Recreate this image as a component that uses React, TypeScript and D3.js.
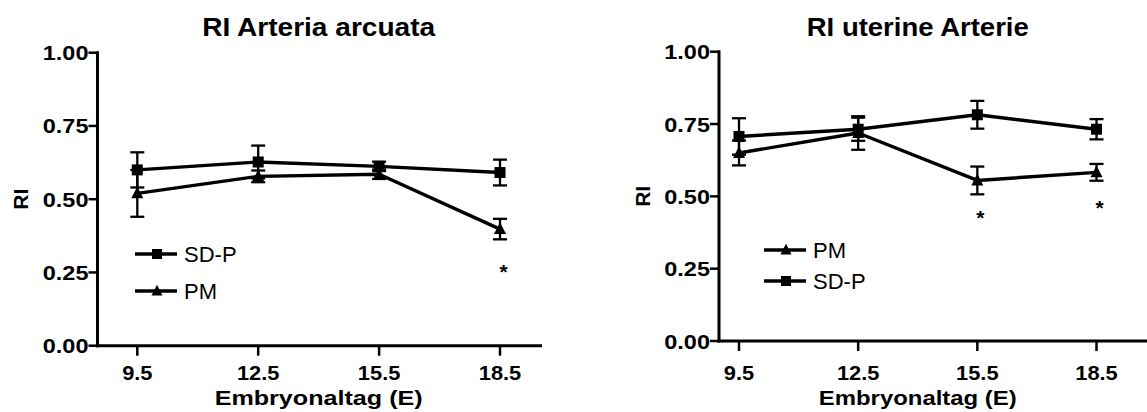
import React from 'react';
import * as d3 from 'd3';

// embryonal days
const days = [9.5, 12.5, 15.5, 18.5];
const yTicks = [0, 0.25, 0.5, 0.75, 1.0];

// RI Arteria arcuata
const arcSDP = [0.60, 0.627, 0.612, 0.591];
const arcSDPErr = [0.06, 0.056, 0.016, 0.044];
const arcPM = [0.52, 0.578, 0.585, 0.398];
const arcPMErr = [0.08, 0.02, 0.016, 0.035];
const arcStarDays = [18.5];
const arcStarVals = [0.27];

// RI uterine Arterie
const utSDP = [0.707, 0.732, 0.782, 0.732];
const utSDPErr = [0.063, 0.04, 0.048, 0.035];
const utPM = [0.65, 0.719, 0.555, 0.583];
const utPMErr = [0.043, 0.058, 0.048, 0.029];
const utStarDays = [15.5, 18.5];
const utStarVals = [0.441, 0.476];

const FONT = 'Liberation Sans, Arial, Helvetica, sans-serif';

type Series = { name: string; vals: number[]; errs: number[]; marker: 'square' | 'triangle' };

const Marker = ({ type, x, y, s }: { type: string; x: number; y: number; s: number }) => {
  if (type === 'square') return <rect x={x - s / 2} y={y - s / 2} width={s} height={s} fill="#000" />;
  return <path d={`M${x},${y - s * 0.62} L${x + s / 2 + 0.5},${y + s * 0.45} L${x - s / 2 - 0.5},${y + s * 0.45} Z`} fill="#000" />;
};

// wide-ish text like the original export
const T = ({ x, y, sx = 1, anchor = 'middle', size = 21, bold = true, children }: any) => (
  <text transform={`translate(${x},${y}) scale(${sx},1)`} textAnchor={anchor}
    fontWeight={bold ? 'bold' : 'normal'} fontSize={size}>{children}</text>
);

const Panel = (p: {
  title: string; titleW: number; labelW: number; axisX: number; axisEnd: number; yTop: number; yBot: number;
  xr: [number, number]; series: Series[]; legend: Series[]; legX: number; legY: number[];
  starDays: number[]; starVals: number[]; starDx: number;
}) => {
  const x = d3.scaleLinear().domain([9.5, 18.5]).range(p.xr);
  const y = d3.scaleLinear().domain([0, 1]).range([p.yBot, p.yTop]);
  const line = d3.line<number>().x((_, i) => x(days[i])).y(d => y(d));
  const midX = (x(9.5) + x(18.5)) / 2;
  return (
    <g fontFamily={FONT}>
      <text x={midX} y={36} textAnchor="middle" fontWeight="bold" fontSize={25}
        textLength={p.titleW} lengthAdjust="spacingAndGlyphs">{p.title}</text>
      <line x1={p.axisX} x2={p.axisX} y1={p.yTop - 1.5} y2={p.yBot + 1.5} stroke="#000" strokeWidth={3} />
      <line x1={p.axisX - 1.5} x2={p.axisEnd} y1={p.yBot} y2={p.yBot} stroke="#000" strokeWidth={3} />
      {yTicks.map(t => (
        <g key={t}>
          <line x1={p.axisX - 9} x2={p.axisX} y1={y(t)} y2={y(t)} stroke="#000" strokeWidth={2.5} />
          <T x={p.axisX - 9} y={y(t) + 7.5} anchor="end" sx={1.12}>{t.toFixed(2)}</T>
        </g>
      ))}
      {days.map(d => (
        <g key={d}>
          <line x1={x(d)} x2={x(d)} y1={p.yBot} y2={p.yBot + 10} stroke="#000" strokeWidth={2.5} />
          <T x={x(d)} y={379.5} sx={1.04}>{d.toFixed(1)}</T>
        </g>
      ))}
      <text x={midX} y={404.5} textAnchor="middle" fontWeight="bold" fontSize={21}
        textLength={p.labelW} lengthAdjust="spacingAndGlyphs">Embryonaltag (E)</text>
      <text transform={`translate(${p.axisX - 77},${y(0.5)}) rotate(-90)`} textAnchor="middle" dy="0.36em"
        fontWeight="bold" fontSize={21}>RI</text>
      {p.series.map(s => (
        <g key={s.name}>
          <path d={line(s.vals) || ''} fill="none" stroke="#000" strokeWidth={3.4} strokeLinejoin="round" />
          {s.vals.map((v, i) => (
            <g key={i} stroke="#000" strokeWidth={2.3}>
              <line x1={x(days[i])} x2={x(days[i])} y1={y(v - s.errs[i])} y2={y(v + s.errs[i])} />
              <line x1={x(days[i]) - 7} x2={x(days[i]) + 7} y1={y(v + s.errs[i])} y2={y(v + s.errs[i])} />
              <line x1={x(days[i]) - 7} x2={x(days[i]) + 7} y1={y(v - s.errs[i])} y2={y(v - s.errs[i])} />
            </g>
          ))}
          {s.vals.map((v, i) => <Marker key={'m' + i} type={s.marker} x={x(days[i])} y={y(v)} s={11} />)}
        </g>
      ))}
      {p.starDays.map((d, i) => (
        <T key={d} x={x(d) + p.starDx} y={y(p.starVals[i]) + 12} size={21}>*</T>
      ))}
      {p.legend.map((s, i) => (
        <g key={s.name}>
          <line x1={p.legX} x2={p.legX + 42} y1={p.legY[i]} y2={p.legY[i]} stroke="#000" strokeWidth={3.6} />
          <Marker type={s.marker} x={p.legX + 22} y={p.legY[i]} s={10} />
          <T x={p.legX + 49} y={p.legY[i] + 8} anchor="start" bold={false} size={22}>{s.name}</T>
        </g>
      ))}
    </g>
  );
};

export default function App() {
  const aSDP: Series = { name: 'SD-P', vals: arcSDP, errs: arcSDPErr, marker: 'square' };
  const aPM: Series = { name: 'PM', vals: arcPM, errs: arcPMErr, marker: 'triangle' };
  const uSDP: Series = { name: 'SD-P', vals: utSDP, errs: utSDPErr, marker: 'square' };
  const uPM: Series = { name: 'PM', vals: utPM, errs: utPMErr, marker: 'triangle' };
  return (
    <svg width={1147} height={412} style={{ position: 'absolute', left: 0, top: 0, background: '#fff' }}>
      <rect width={1147} height={412} fill="#fff" />
      <Panel title="RI Arteria arcuata" titleW={233} labelW={208} axisX={97.5} axisEnd={542} yTop={52.7} yBot={345.7}
        xr={[137.3, 500]} series={[aSDP, aPM]} legend={[aSDP, aPM]} legX={135} legY={[254, 291]}
        starDays={arcStarDays} starVals={arcStarVals} starDx={3.5} />
      <Panel title="RI uterine Arterie" titleW={222} labelW={198} axisX={719} axisEnd={1147} yTop={51.7} yBot={341}
        xr={[739, 1096.5]} series={[uSDP, uPM]} legend={[uPM, uSDP]} legX={764} legY={[250, 281]}
        starDays={utStarDays} starVals={utStarVals} starDx={3} />
    </svg>
  );
}
